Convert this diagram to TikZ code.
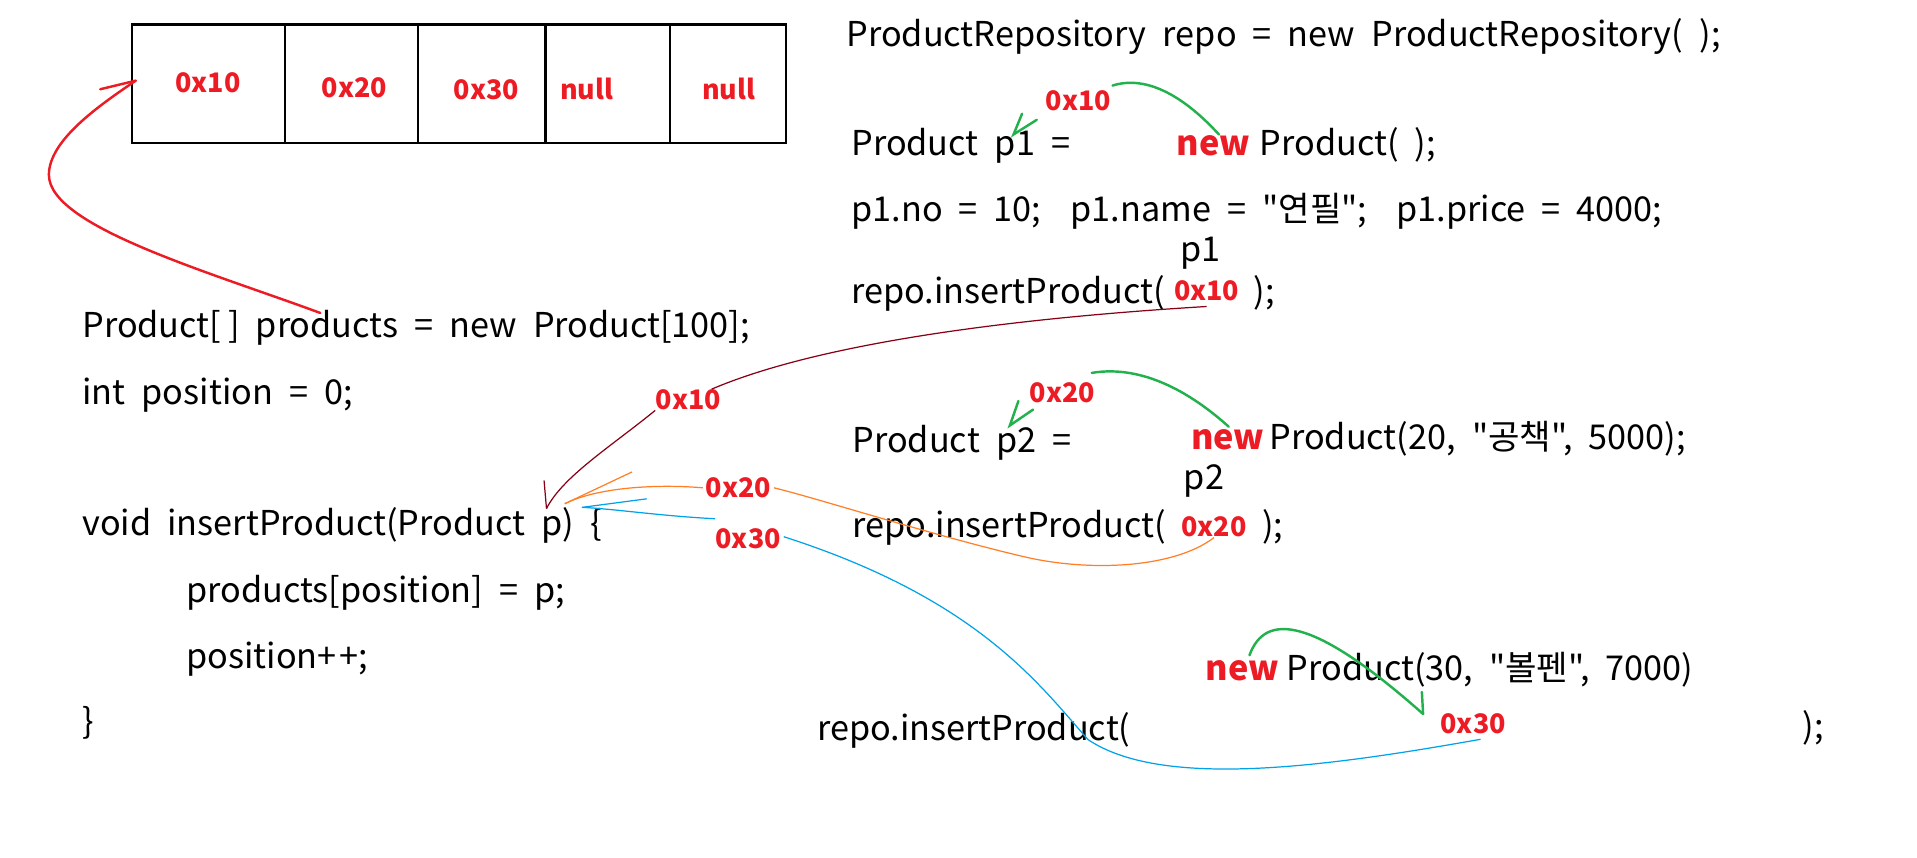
\documentclass[tikz,border=0pt]{standalone}
\usepackage{fontspec}
\setmainfont{Noto Sans CJK KR}[WordSpace=2.1, Ligatures=TeXOff]
\usetikzlibrary{arrows.meta}
\definecolor{addrred}{HTML}{ED1C24}
\definecolor{arrgreen}{HTML}{22B14C}
\definecolor{arrorange}{HTML}{FF7F27}
\definecolor{arrblue}{HTML}{00A2E8}
\definecolor{arrmaroon}{HTML}{880015}
\newcommand\codefont{\fontsize{14pt}{17pt}\selectfont}
\newcommand\addrfont{\fontsize{11pt}{13pt}\selectfont\bfseries}
\tikzset{
  code/.style={font=\codefont, anchor=base west, inner sep=0pt},
  addr/.style={font=\addrfont, text=addrred, inner sep=0pt},
  newkw/.style={font=\codefont\bfseries, text=addrred, anchor=base west, inner sep=0pt},
  cell/.style={draw, line width=1.1pt, inner sep=0pt},
  redwire/.style={draw=addrred, line width=1pt, line cap=round},
  greenwire/.style={draw=arrgreen, line width=1pt, line cap=round},
  maroonwire/.style={draw=arrmaroon, line width=0.5pt},
  orangewire/.style={draw=arrorange, line width=0.5pt},
  bluewire/.style={draw=arrblue, line width=0.5pt},
}
\begin{document}
\begin{tikzpicture}[x=0.5pt,y=-0.5pt]
\fill[white] (0,0) rectangle (1568,701);
\useasboundingbox (0,0) rectangle (1568,701);

% array cells
\node[cell, minimum width=62.5pt, minimum height=48.5pt] (c1) at (170.5,68.5) {};
\node[cell, minimum width=54.5pt, minimum height=48.5pt] (c2) at (287.5,68.5) {};
\node[cell, minimum width=52pt, minimum height=48.5pt] (c3) at (394,68.5) {};
\node[cell, minimum width=51pt, minimum height=48.5pt] (c4) at (497,68.5) {};
\node[cell, minimum width=47.5pt, minimum height=48.5pt] (c5) at (595.5,68.5) {};
\node[addr] (v1) at (170,68) {0x10};
\node[addr] (v2) at (290,72) {0x20};
\node[addr] (v3) at (398,73) {0x30};
\node[addr] (v4) at (480,73) {null};
\node[addr] (v5) at (596,73) {null};

% right column code
\node[code] (repoline) at (692,38) {ProductRepository repo = new ProductRepository( );};
\node[addr] (a1new) at (882,82) {0x10};
\node[code] (p1decl) at (696,127) {Product p1 =};
\node[newkw] (new1) at (962,127) {new};
\node[code] (ctor1) at (1030,127) {Product( );};
\node[code] (p1set) at (696,181) {p1.no = 10;\hspace{0.85em}p1.name = "연필";\hspace{0.85em}p1.price = 4000;};
\node[code] (p1lbl) at (965,214) {p1};
\node[code] (ins1) at (696,248) {repo.insertProduct(};
\node[addr] (a1arg) at (987,238) {0x10};
\node[code] (ins1end) at (1025,248) {);};

\node[addr] (a2new) at (869,321) {0x20};
\node[code] (p2decl) at (697,370) {Product p2 =};
\node[newkw] (new2) at (974,368) {new};
\node[code] (ctor2) at (1038,368) {Product(20, "공책", 5000);};
\node[code] (p2lbl) at (968,400) {p2};
\node[code] (ins2) at (697,440) {repo.insertProduct(};
\node[addr] (a2arg) at (993,431) {0x20};
\node[code] (ins2end) at (1032,440) {);};

\node[newkw] (new3) at (986,557) {new};
\node[code] (ctor3) at (1052,557) {Product(30, "볼펜", 7000)};
\node[addr] (a3new) at (1205,592) {0x30};
\node[code] (ins3) at (668,606) {repo.insertProduct(};
\node[code] (ins3end) at (1474,604) {);};

% left column code
\node[code] (arrdecl) at (67,276) {Product[\hspace{0.2em}] products = new Product[100];};
\node[code] (posdecl) at (67,331) {int position = 0;};
\node[code] (method) at (67,438) {void insertProduct(Product p) \{};
\node[code] (body1) at (152,493) {products[position] = p;};
\node[code] (body2) at (152,547) {position+\kern1pt+;};
\node[code] (closing) at (67,600) {\}};

\node[addr] (lbl10) at (563,327) {0x10};
\node[addr] (lbl20) at (604,399) {0x20};
\node[addr] (lbl30) at (612,441) {0x30};

% helper coordinates
\coordinate (prodword) at (262,256);
\coordinate (arrtip) at (111,66);
\coordinate (ptip1) at (447,416);
\coordinate (ptip2) at (462,412);
\coordinate (ptip3) at (476,415);

% red: products -> array
\draw[redwire] (prodword) .. controls (170,222) and (40,185) .. (40,143)
   .. controls (40,115) and (80,87) .. (arrtip);
\draw[redwire] (arrtip) -- ++(-29,7);

% maroon: 0x10 -> p
\draw[maroonwire] ([yshift=-2pt]a1arg.south) .. controls (800,262) and (660,285) .. ([xshift=-4pt]lbl10.north east);
\draw[maroonwire] (lbl10.south west) .. controls (500,365) and (460,390) .. (ptip1);
\draw[maroonwire] (ptip1) -- ++(-2,-23);

% orange: 0x20 -> p
\draw[orangewire] (a2arg.south) .. controls (960,465) and (890,468) .. (836,455)
   .. controls (760,437) and (670,408) .. ([xshift=1pt]lbl20.east);
\draw[orangewire] ([xshift=-1pt]lbl20.west) .. controls (540,396) and (490,398) .. (ptip2);
\draw[orangewire] (ptip2) -- ++(55,-26);

% blue: 0x30 -> p
\draw[bluewire] ([xshift=3pt,yshift=-2pt]a3new.south) .. controls (1080,628) and (950,645) .. (890,605)
   .. controls (850,560) and (800,490) .. ([xshift=1pt,yshift=1pt]lbl30.east);
\draw[bluewire] ([yshift=4pt]lbl30.north west) .. controls (540,422) and (500,416) .. (ptip3);
\draw[bluewire] (ptip3) -- ++(53,-7);

% green: new -> address
\coordinate (g1s) at (997,110);
\coordinate (g1e) at (910,70);
\draw[greenwire] (g1s) .. controls (965,75) and (935,62) .. (g1e);
\coordinate (g1tip) at (829,110);
\draw[greenwire] (848,98) -- (g1tip) -- (836,93);

\coordinate (g2s) at (1005,349);
\coordinate (g2e) at (893,305);
\draw[greenwire] (g2s) .. controls (975,322) and (935,298) .. (g2e);
\coordinate (g2tip) at (826,348);
\draw[greenwire] (845,335) -- (g2tip) -- (833,328);

\coordinate (g3s) at (1022,536);
\coordinate (g3tip) at (1164,584);
\draw[greenwire] (g3s) .. controls (1035,500) and (1075,505) .. (g3tip);
\draw[greenwire] (g3tip) -- ++(-1,-18);
\end{tikzpicture}
\end{document}
